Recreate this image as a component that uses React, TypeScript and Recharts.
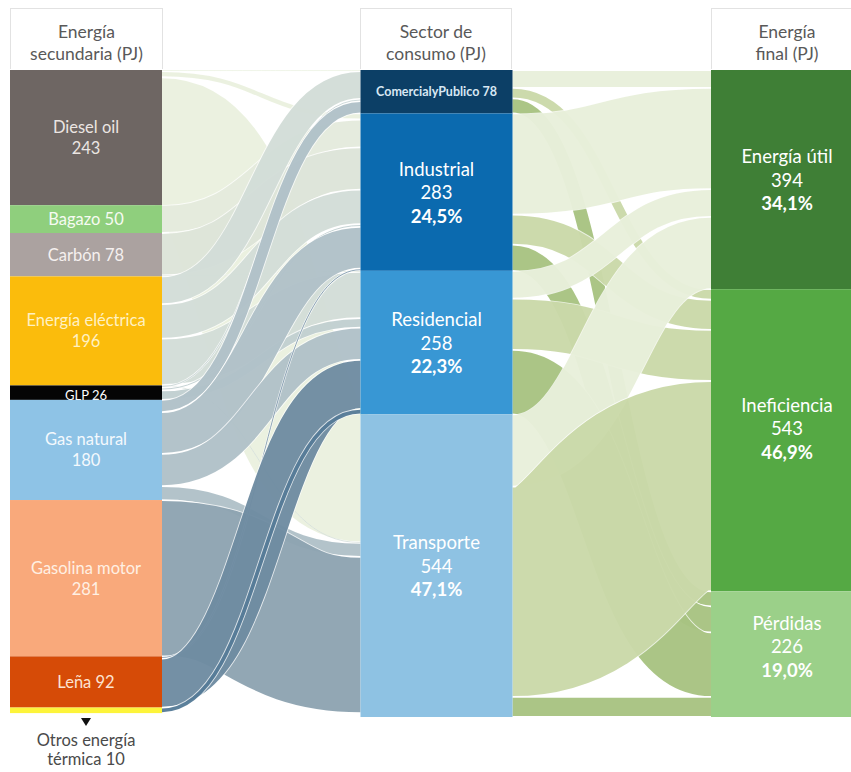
import { Sankey } from "recharts";

const FONT = "Lato, 'Open Sans', sans-serif";

const sourceNames = [
  "Diesel oil",
  "Bagazo",
  "Carbón",
  "Energía eléctrica",
  "GLP",
  "Gas natural",
  "Gasolina motor",
  "Leña",
  "Otros energía térmica",
];
const sectorNames = ["ComercialyPublico", "Industrial", "Residencial", "Transporte"];
const finalNames = ["Energía útil", "Ineficiencia", "Pérdidas"];

const sectorPct = ["", "24,5%", "22,3%", "47,1%"];
const finalPct = ["34,1%", "46,9%", "19,0%"];

// PJ, rows = secondary energy, cols = sector
const sourceToSector = [
  [2, 11, 0, 230],
  [0, 50, 0, 0],
  [0, 76, 2, 0],
  [50, 62, 83, 1],
  [4, 5, 17, 0],
  [22, 75, 58, 25],
  [0, 0, 0, 281],
  [0, 4, 88, 0],
  [0, 0, 10, 0],
];

// PJ, rows = sector, cols = final energy
const sectorToFinal = [
  [32, 19, 27],
  [182, 54, 47],
  [50, 92, 116],
  [130, 378, 36],
];

const headers = [
  { left: 10, width: 153, lines: ["Energía", "secundaria (PJ)"] },
  { left: 360, width: 152, lines: ["Sector de", "consumo (PJ)"] },
  { left: 711, width: 152, lines: ["Energía", "final (PJ)"] },
];

const nodeColors: Record<string, string> = {
  "Diesel oil": "#6e6663",
  Bagazo: "#8fcf7d",
  "Carbón": "#aba2a0",
  "Energía eléctrica": "#fbbc0c",
  GLP: "#050505",
  "Gas natural": "#8ec3e6",
  "Gasolina motor": "#f9a97b",
  "Leña": "#d64b07",
  "Otros energía térmica": "#fdf43a",
  ComercialyPublico: "#0c3f66",
  Industrial: "#0b6aaf",
  Residencial: "#3897d4",
  Transporte: "#8ec2e3",
  "Energía útil": "#3f7f36",
  Ineficiencia: "#55a944",
  "Pérdidas": "#9bd089",
};

const textColors: Record<string, string> = {
  "Diesel oil": "#ebe5e2",
  Bagazo: "#f6fbf2",
  "Carbón": "#f5f0ef",
  "Energía eléctrica": "#fff1c2",
  GLP: "#ffffff",
  "Gas natural": "#f4f9fd",
  "Gasolina motor": "#fff0e3",
  "Leña": "#fde3d2",
  ComercialyPublico: "#d8e7f3",
};

const leftLinkColors: Record<string, string> = {
  "Diesel oil": "#e8eedb",
  Bagazo: "#e0e8d8",
  "Carbón": "#d8e1d4",
  "Energía eléctrica": "#ccd8d2",
  GLP: "#b9c9ca",
  "Gas natural": "#a6b9c1",
  "Gasolina motor": "#7f98a7",
  "Leña": "#5c7d95",
  "Otros energía térmica": "#3f6a8a",
};

const rightLinkColors: Record<string, string> = {
  "Energía útil": "#e5edd6",
  Ineficiencia: "#c3d39e",
  "Pérdidas": "#9cbb71",
};

const singleLine = ["Bagazo", "Carbón", "GLP", "Leña", "ComercialyPublico"];

const nodes = [...sourceNames, ...sectorNames, ...finalNames].map((name) => ({ name }));

const links: { source: number; target: number; value: number }[] = [];
sourceToSector.forEach((row, i) =>
  row.forEach((v, j) => {
    if (v > 0) links.push({ source: i, target: sourceNames.length + j, value: v });
  })
);
sectorToFinal.forEach((row, i) =>
  row.forEach((v, j) => {
    if (v > 0)
      links.push({
        source: sourceNames.length + i,
        target: sourceNames.length + sectorNames.length + j,
        value: v,
      });
  })
);

const NodeShape = (props: any) => {
  const { x, y, width, height, payload } = props;
  const name: string = payload.name;
  const value = Math.round(payload.value);
  const cx = x + width / 2;
  const cy = y + height / 2;
  const fill = nodeColors[name];
  const color = textColors[name] || "#ffffff";

  if (name === "Otros energía térmica") {
    return (
      <g>
        <rect x={x} y={y} width={width} height={height} fill={fill} />
        <path d={`M${cx - 5},${y + height + 5} L${cx + 5},${y + height + 5} L${cx},${y + height + 13} Z`} fill="#111" />
        <text x={cx} y={y + height + 33} textAnchor="middle" fontFamily={FONT} fontSize={16.5} fill="#4a4a4a">
          Otros energía
        </text>
        <text x={cx} y={y + height + 52} textAnchor="middle" fontFamily={FONT} fontSize={16.5} fill="#4a4a4a">
          {`térmica  ${value}`}
        </text>
      </g>
    );
  }

  if (singleLine.includes(name)) {
    const small = name === "ComercialyPublico";
    return (
      <g>
        <rect x={x} y={y} width={width} height={height} fill={fill} />
        <text
          x={cx}
          y={name === "GLP" ? cy + 2 : cy}
          textAnchor="middle"
          dominantBaseline="central"
          fontFamily={FONT}
          fontSize={small ? 12.5 : name === "GLP" ? 13 : 16.5}
          fontWeight={small ? 700 : 400}
          fill={color}
        >
          {name === "Leña" || small ? `${name} ${value}` : `${name}  ${value}`}
        </text>
      </g>
    );
  }

  const si = sectorNames.indexOf(name);
  const fi = finalNames.indexOf(name);
  const pct = si >= 0 ? sectorPct[si] : fi >= 0 ? finalPct[fi] : "";
  const lines = pct ? [name, String(value), pct] : [name, String(value)];
  const step = pct ? 23.5 : 21;
  const size = pct ? 18.5 : 16.5;
  const shift = fi === 1 ? -12 : fi === 2 ? -8 : 0;
  const start = cy - ((lines.length - 1) * step) / 2 + shift;

  return (
    <g>
      <rect x={x} y={y} width={width} height={height} fill={fill} />
      {lines.map((t, k) => (
        <text
          key={k}
          x={cx}
          y={start + k * step}
          textAnchor="middle"
          dominantBaseline="central"
          fontFamily={FONT}
          fontSize={size}
          fontWeight={k === 2 ? 700 : 400}
          fill={color}
        >
          {t}
        </text>
      ))}
    </g>
  );
};

const LinkShape = (props: any) => {
  const { sourceX, targetX, sourceY, targetY, sourceControlX, targetControlX, linkWidth, payload } = props;
  const srcName: string = payload.source.name;
  const tgtName: string = payload.target.name;
  const color = sourceNames.includes(srcName) ? leftLinkColors[srcName] : rightLinkColors[tgtName];
  const d = `M${sourceX},${sourceY} C${sourceControlX},${sourceY} ${targetControlX},${targetY} ${targetX},${targetY}`;
  return (
    <g>
      <path d={d} fill="none" stroke="#ffffff" strokeOpacity={0.75} strokeWidth={linkWidth} />
      <path d={d} fill="none" stroke={color} strokeOpacity={0.85} strokeWidth={Math.max(linkWidth - 1.8, 0.8)} />
    </g>
  );
};

export default function App() {
  return (
    <div
      style={{
        position: "fixed",
        left: 0,
        top: 0,
        width: 851,
        height: 772,
        overflow: "hidden",
        background: "#ffffff",
      }}
    >
      <Sankey
        width={863}
        height={772}
        data={{ nodes, links }}
        node={NodeShape}
        link={LinkShape}
        nodePadding={0}
        nodeWidth={152}
        iterations={0}
        linkCurvature={0.5}
        margin={{ top: 70, left: 10, right: 0, bottom: 55 }}
      />
      {headers.map((h) => (
        <div
          key={h.left}
          style={{
            position: "absolute",
            left: h.left,
            top: 8,
            width: h.width,
            height: 61,
            boxSizing: "border-box",
            border: "1px solid #e2e2e2",
            borderBottom: "none",
            background: "#ffffff",
            fontFamily: FONT,
            fontSize: 17.5,
            color: "#595959",
            textAlign: "center",
            lineHeight: "22px",
            paddingTop: 12,
          }}
        >
          {h.lines.map((l) => (
            <div key={l}>{l}</div>
          ))}
        </div>
      ))}
    </div>
  );
}
